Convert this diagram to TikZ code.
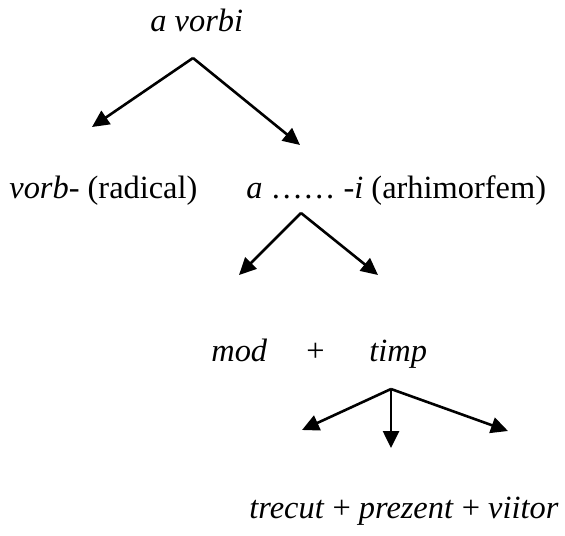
\documentclass[tikz,border=0pt]{standalone}
\usepackage{fontspec}
\setmainfont{Liberation Serif}
\usetikzlibrary{arrows.meta}
\begin{document}
\begin{tikzpicture}[x=0.5pt,y=-0.5pt]

    \tikzset{
      word/.style={
        anchor=base west,
        inner sep=0pt,
        font=\fontsize{16.2}{19}\selectfont,
      },
      branch/.style={
        line width=1.3pt,
        -{Triangle[length=8.5pt,width=8pt]},
      },
    }
    \useasboundingbox (0,0) rectangle (565,535);
	\node[word] (verb) at (150,32) {\textit{a vorbi}};
	\node[word] (radical) at (9,198) {\textit{vorb-} (radical)};
	\node[word] (arhimorf) at (246,198) {\textit{a} …… \textit{-i} (arhimorfem)};
	\node[word] (mod) at (211,361) {\textit{mod}};
	\node[word] (plus) at (306,361) {+};
	\node[word] (timp) at (369,361) {\textit{timp}};
	\node[word] (tenses) at (249,518) {\textit{trecut} + \textit{prezent} + \textit{viitor}};
	\coordinate (verbtop) at (193,58);
	\coordinate (radtip) at (92,127);
	\coordinate (arhitip) at (300,145);
	\coordinate (arhitop) at (301,213);
	\coordinate (modtip) at (239,275);
	\coordinate (timptip) at (378,275);
	\coordinate (timptop) at (391,389);
	\coordinate (trecuttip) at (302,430);
	\coordinate (prezenttip) at (391,448);
	\coordinate (viitortip) at (508,431);
	\draw[color={black},branch] (verbtop)--(radtip);
	\draw[color={black},branch] (verbtop)--(arhitip);
	\draw[color={black},branch] (arhitop)--(modtip);
	\draw[color={black},branch] (arhitop)--(timptip);
	\draw[color={black},branch] (timptop)--(trecuttip);
	\draw[color={black},branch] (timptop)--(prezenttip);
	\draw[color={black},branch] (timptop)--(viitortip);

\end{tikzpicture}
\end{document}
